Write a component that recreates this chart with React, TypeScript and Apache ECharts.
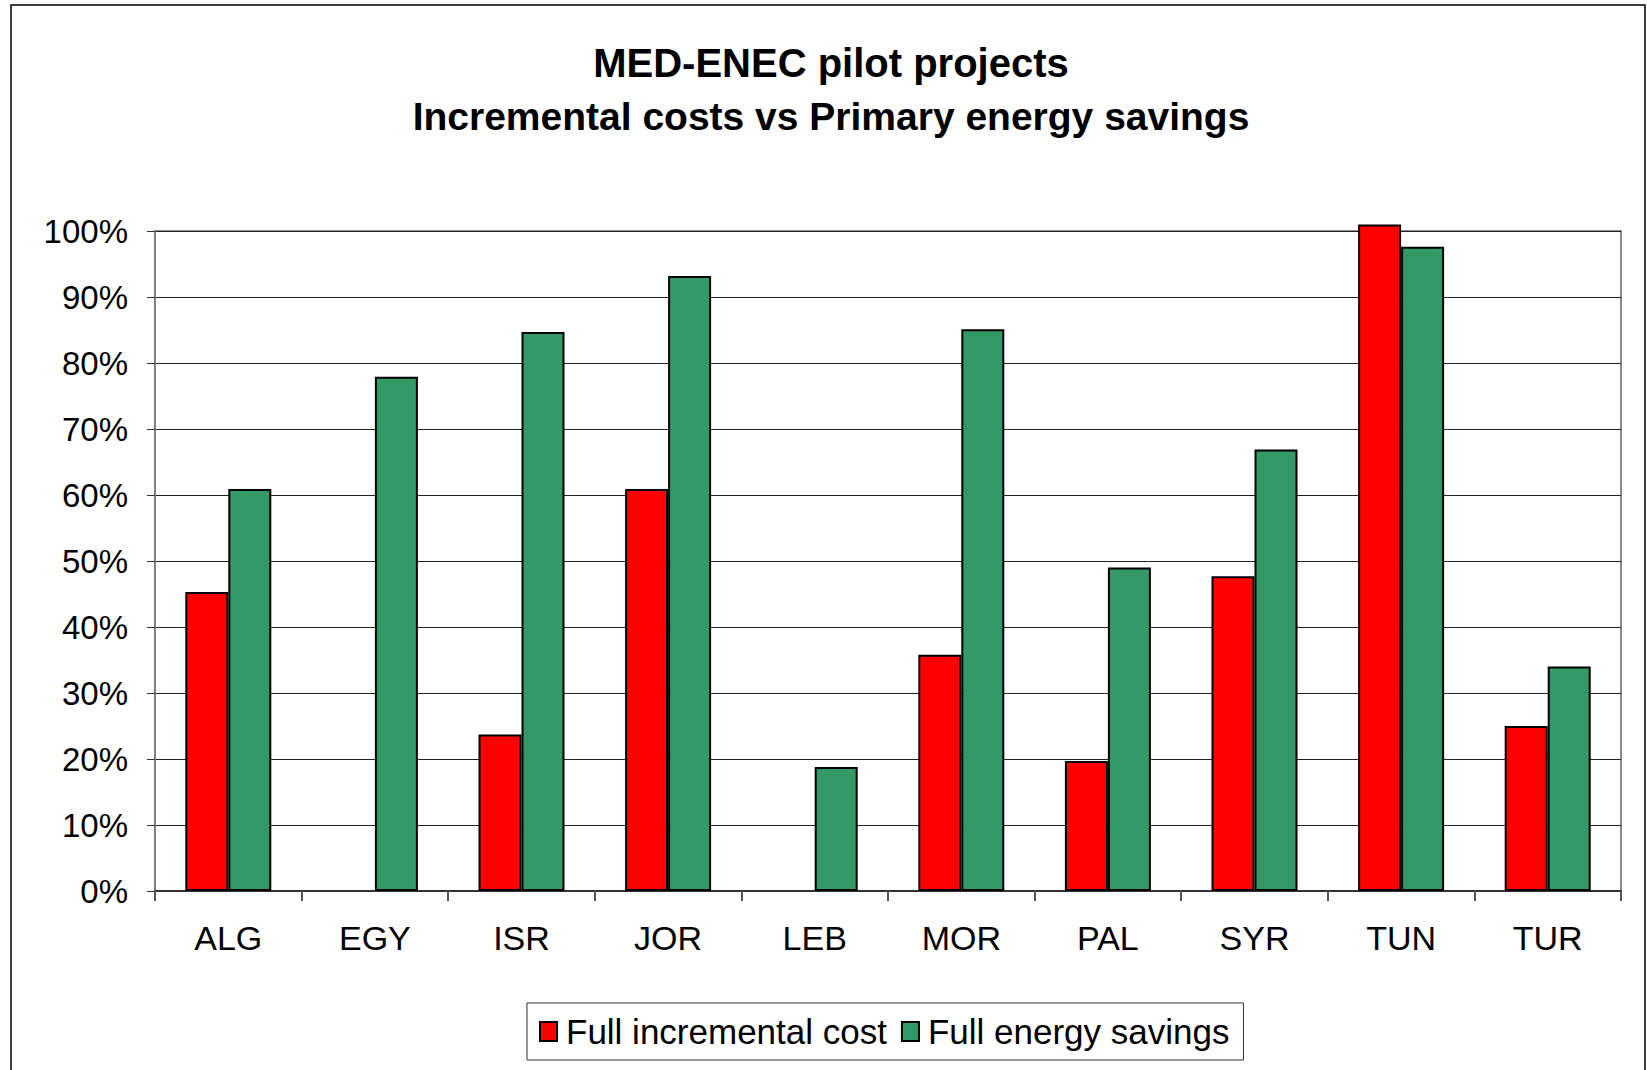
import React, { useEffect, useRef } from "react";
import * as echarts from "echarts";

const categories = ["ALG", "EGY", "ISR", "JOR", "LEB", "MOR", "PAL", "SYR", "TUN", "TUR"];
const incrementalCost = [0.453, null, 0.237, 0.609, null, 0.358, 0.197, 0.477, 1.01, 0.25];
const energySavings = [0.609, 0.779, 0.847, 0.932, 0.188, 0.851, 0.49, 0.669, 0.976, 0.34];
const yTicks = [0, 0.1, 0.2, 0.3, 0.4, 0.5, 0.6, 0.7, 0.8, 0.9, 1.0];
const titleLines = ["MED-ENEC pilot projects", "Incremental costs vs Primary energy savings"];
const seriesNames = ["Full incremental cost", "Full energy savings"];

const FONT = "'Liberation Sans', Arial, sans-serif";

export default function App() {
  const ref = useRef<HTMLDivElement>(null);
  useEffect(() => {
    document.body.style.margin = "0";
    const chart = echarts.init(ref.current!, null, { renderer: "svg" });
    chart.setOption({
      animation: false,
      backgroundColor: "#fff",
      textStyle: { fontFamily: FONT },
      graphic: [
        {
          type: "rect",
          shape: { x: 11, y: 5, width: 1634, height: 1200 },
          style: { fill: "none", stroke: "#000", lineWidth: 1.5 },
          silent: true,
        },
        {
          type: "text",
          x: 831,
          y: 63,
          style: {
            text: titleLines[0],
            font: `bold 40px ${FONT}`,
            fill: "#000",
            textAlign: "center",
            textVerticalAlign: "middle",
          },
        },
        {
          type: "text",
          x: 831,
          y: 116,
          style: {
            text: titleLines[1],
            font: `bold 39px ${FONT}`,
            fill: "#000",
            textAlign: "center",
            textVerticalAlign: "middle",
          },
        },
      ],
      grid: {
        left: 155,
        right: 26,
        top: 231,
        bottom: 179,
        show: true,
        borderColor: "#8c8c8c",
        borderWidth: 2,
        backgroundColor: "#fff",
      },
      legend: {
        left: 527,
        top: 1003,
        padding: [11, 14, 11, 12],
        borderColor: "#333",
        borderWidth: 1,
        itemWidth: 17,
        itemHeight: 19,
        itemGap: 14,
        icon: "rect",
        textStyle: { fontSize: 35, color: "#000", fontFamily: FONT, padding: [0, 0, 0, 4] },
        data: seriesNames,
      },
      xAxis: {
        type: "category",
        data: categories,
        boundaryGap: true,
        axisLine: { show: true, lineStyle: { color: "#333", width: 2 } },
        axisTick: { show: true, length: 10, lineStyle: { color: "#555", width: 2 } },
        axisLabel: { fontSize: 34, color: "#000", margin: 30, fontFamily: FONT },
        splitLine: { show: false },
      },
      yAxis: {
        type: "value",
        min: 0,
        max: 1,
        interval: 0.1,
        axisLine: { show: true, lineStyle: { color: "#808080", width: 2 } },
        axisTick: { show: true, length: 8, lineStyle: { color: "#333", width: 1 } },
        axisLabel: {
          fontSize: 33,
          color: "#000",
          margin: 27,
          fontFamily: FONT,
          formatter: (v: number) => {
            const t = yTicks.find((x) => Math.abs(x - v) < 1e-6);
            return Math.round((t ?? v) * 100) + "%";
          },
        },
        splitLine: { show: true, lineStyle: { color: "#222", width: 1 } },
      },
      series: [
        {
          name: seriesNames[0],
          type: "bar",
          data: incrementalCost,
          barWidth: 43,
          barGap: "0%",
          clip: false,
          itemStyle: { color: "#ff0000", borderColor: "#000", borderWidth: 2 },
        },
        {
          name: seriesNames[1],
          type: "bar",
          data: energySavings,
          barWidth: 43,
          barGap: "0%",
          clip: false,
          itemStyle: { color: "#339966", borderColor: "#000", borderWidth: 2 },
        },
      ],
    });
    return () => chart.dispose();
  }, []);
  return <div ref={ref} style={{ width: 1647, height: 1070 }} />;
}
